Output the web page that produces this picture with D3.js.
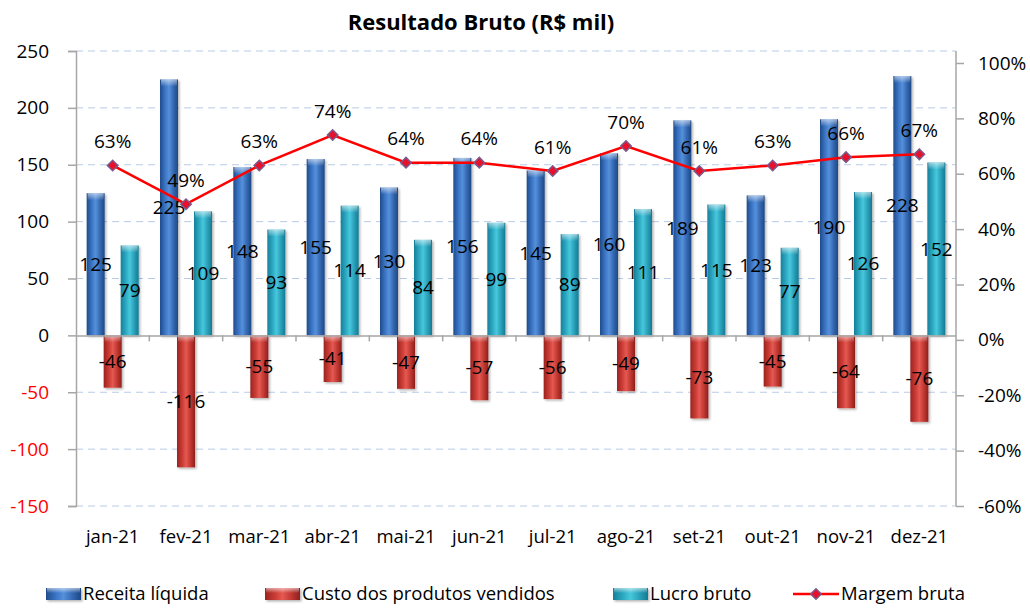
<!DOCTYPE html>
<html><head><meta charset="utf-8">
<script src="https://cdn.jsdelivr.net/npm/d3@7"></script>
<style>
body{margin:0;background:#fff;}
svg{display:block;font-family:"Open Sans",sans-serif;}
</style></head>
<body><svg id="c" width="1030" height="608"></svg>
<script>
const categories = ["jan-21","fev-21","mar-21","abr-21","mai-21","jun-21","jul-21","ago-21","set-21","out-21","nov-21","dez-21"];
const receita = [125,225,148,155,130,156,145,160,189,123,190,228];
const custo = [-46,-116,-55,-41,-47,-57,-56,-49,-73,-45,-64,-76];
const lucro = [79,109,93,114,84,99,89,111,115,77,126,152];
const margem = [0.63,0.49,0.63,0.74,0.64,0.64,0.61,0.70,0.61,0.63,0.66,0.67];
const leftTicks = [-150,-100,-50,0,50,100,150,200,250];
const rightTicks = [-0.6,-0.4,-0.2,0,0.2,0.4,0.6,0.8,1.0];
const seriesNames = ["Receita líquida","Custo dos produtos vendidos","Lucro bruto","Margem bruta"];

const svg = d3.select("#c");
const L = 76, R = 956, T = 51, B = 506;
const x = d3.scaleBand().domain(categories).range([L, R]);
const yL = d3.scaleLinear().domain([-150,250]).range([B, T]);
const yR = d3.scaleLinear().domain([-0.6,1.0]).range([B, 63]);

const defs = svg.append("defs");
const pal = [
  {id:"gRec", c:["#1f4c8c","#3c77c8","#5690da","#3468b2","#1e4884"]},
  {id:"gCus", c:["#9a2420","#cc3c36","#e45a52","#c23832","#8e201c"]},
  {id:"gLuc", c:["#177f98","#2eaac4","#48c8dc","#2aa0ba","#157a92"]}
];
pal.forEach(p=>{
  const g = defs.append("linearGradient").attr("id",p.id).attr("x1","0").attr("x2","1").attr("y1","0").attr("y2","0");
  [0,0.3,0.5,0.75,1].forEach((o,i)=>g.append("stop").attr("offset",o).attr("stop-color",p.c[i]));
});
const cap = defs.append("linearGradient").attr("id","gCap").attr("x1","0").attr("x2","0").attr("y1","0").attr("y2","1");
cap.append("stop").attr("offset",0).attr("stop-color","#fff").attr("stop-opacity",0.55);
cap.append("stop").attr("offset",1).attr("stop-color","#fff").attr("stop-opacity",0);
const sh = defs.append("filter").attr("id","sh").attr("x","-20%").attr("y","-20%").attr("width","160%").attr("height","160%");
sh.append("feDropShadow").attr("dx",1.5).attr("dy",1.5).attr("stdDeviation",1.2).attr("flood-color","#000").attr("flood-opacity",0.3);

// gridlines
svg.append("g").selectAll("line").data(leftTicks.filter(d=>d!==0)).join("line")
  .attr("x1",L).attr("x2",R).attr("y1",d=>yL(d)).attr("y2",d=>yL(d))
  .attr("stroke","#b8cbe6").attr("stroke-width",1).attr("stroke-dasharray","7,5");

// axes
const gl = svg.append("g").attr("transform",`translate(${L},0)`)
  .call(d3.axisLeft(yL).tickValues(leftTicks).tickSize(8).tickPadding(19).tickFormat(d=>String(d)));
gl.selectAll("text").attr("font-size",19).attr("font-family","Open Sans").attr("fill",d=>d<0?"#ff0000":"#000");
gl.select(".domain").attr("stroke","#a6a6a6").attr("stroke-width",1.5);
gl.selectAll(".tick line").attr("stroke","#a6a6a6").attr("stroke-width",1.5);

const gr = svg.append("g").attr("transform",`translate(${R},0)`)
  .call(d3.axisRight(yR).tickValues(rightTicks).tickSize(8).tickPadding(14).tickFormat(d=>Math.round(d*100)+"%"));
gr.selectAll("text").attr("font-size",19).attr("font-family","Open Sans").attr("fill","#000");
gr.select(".domain").attr("d",`M0,${T}V${B}`).attr("stroke","#a6a6a6").attr("stroke-width",1.5);
gr.selectAll(".tick line").attr("stroke","#a6a6a6").attr("stroke-width",1.5);

// bars
const bw = 18, step = 17;
const series = [receita, custo, lucro];
series.forEach((vals,si)=>{
  const g = svg.append("g");
  const off = (si-1)*step;
  const data = vals.map((v,i)=>({v, c:categories[i]}));
  g.selectAll("rect.bar").data(data).join("rect").attr("class","bar")
    .attr("x",d=>x(d.c)+x.bandwidth()/2+off-bw/2).attr("width",bw)
    .attr("y",d=>Math.min(yL(d.v),yL(0))).attr("height",d=>Math.abs(yL(d.v)-yL(0)))
    .attr("fill",`url(#${pal[si].id})`).attr("filter","url(#sh)");
  g.selectAll("rect.cap").data(data).join("rect").attr("class","cap")
    .attr("x",d=>x(d.c)+x.bandwidth()/2+off-bw/2+1).attr("width",bw-2)
    .attr("y",d=>Math.min(yL(d.v),yL(0))).attr("height",7)
    .attr("fill","url(#gCap)");
});

// x axis (zero line)
const gx = svg.append("g").attr("transform",`translate(0,${yL(0)})`)
  .call(d3.axisBottom(x).tickSize(0).tickFormat(""));
gx.select(".domain").attr("stroke","#a6a6a6").attr("stroke-width",1.5);
svg.append("g").selectAll("line").data(categories.slice(1)).join("line")
  .attr("x1",d=>x(d)).attr("x2",d=>x(d)).attr("y1",yL(0)).attr("y2",yL(0)+6)
  .attr("stroke","#a6a6a6").attr("stroke-width",1.5);
svg.append("g").selectAll("text").data(categories).join("text")
  .attr("x",d=>x(d)+x.bandwidth()/2).attr("y",543).attr("text-anchor","middle")
  .attr("font-size",18.5).text(d=>d);

// bar labels
series.forEach((vals,si)=>{
  const off = (si-1)*step;
  svg.append("g").selectAll("text").data(vals.map((v,i)=>({v,c:categories[i]}))).join("text")
    .attr("x",d=>x(d.c)+x.bandwidth()/2+off).attr("y",d=>(yL(d.v)+yL(0))/2).attr("dy","0.35em")
    .attr("text-anchor","middle").attr("font-size",19).attr("fill","#000").text(d=>d.v);
});

// line
const mData = margem.map((v,i)=>({v,c:categories[i]}));
const line = d3.line().x(d=>x(d.c)+x.bandwidth()/2).y(d=>yR(d.v));
svg.append("path").datum(mData).attr("d",line).attr("fill","none").attr("stroke","#ff0000").attr("stroke-width",2.5);
const diamond = d3.symbol().type(d3.symbolSquare).size(55);
svg.append("g").selectAll("path").data(mData).join("path")
  .attr("d",diamond).attr("transform",d=>`translate(${x(d.c)+x.bandwidth()/2},${yR(d.v)}) rotate(45)`)
  .attr("fill","#e8102a").attr("stroke","#7a5a8c").attr("stroke-width",1.5);
svg.append("g").selectAll("text").data(mData).join("text")
  .attr("x",d=>x(d.c)+x.bandwidth()/2).attr("y",d=>yR(d.v)-24).attr("dy","0.35em")
  .attr("text-anchor","middle").attr("font-size",19).text(d=>Math.round(d.v*100)+"%");

// title
svg.append("text").attr("x",481).attr("y",30).attr("text-anchor","middle")
  .attr("font-size",22).attr("font-weight","bold").text("Resultado Bruto (R$ mil)");

// legend
const lg = svg.append("g");
const items = [
  {sx:46, tx:83, type:"bar", id:"gRec"},
  {sx:265, tx:302, type:"bar", id:"gCus"},
  {sx:613, tx:650, type:"bar", id:"gLuc"},
  {sx:793, tx:841, type:"line"}
];
const ly = 594;
items.forEach((it,i)=>{
  if(it.type==="bar"){
    lg.append("rect").attr("x",it.sx).attr("y",ly-6).attr("width",35).attr("height",12).attr("fill",`url(#${it.id})`).attr("filter","url(#sh)");
    lg.append("rect").attr("x",it.sx+1).attr("y",ly-6).attr("width",33).attr("height",5).attr("fill","url(#gCap)");
  } else {
    lg.append("line").attr("x1",it.sx).attr("x2",it.sx+46).attr("y1",ly).attr("y2",ly).attr("stroke","#ff0000").attr("stroke-width",2.5);
    lg.append("path").attr("d",diamond).attr("transform",`translate(${it.sx+23},${ly}) rotate(45)`).attr("fill","#e8102a").attr("stroke","#7a5a8c").attr("stroke-width",1.5);
  }
  lg.append("text").attr("x",it.tx).attr("y",ly).attr("dy","0.35em").attr("font-size",18.5).text(seriesNames[i]);
});
</script></body></html>
